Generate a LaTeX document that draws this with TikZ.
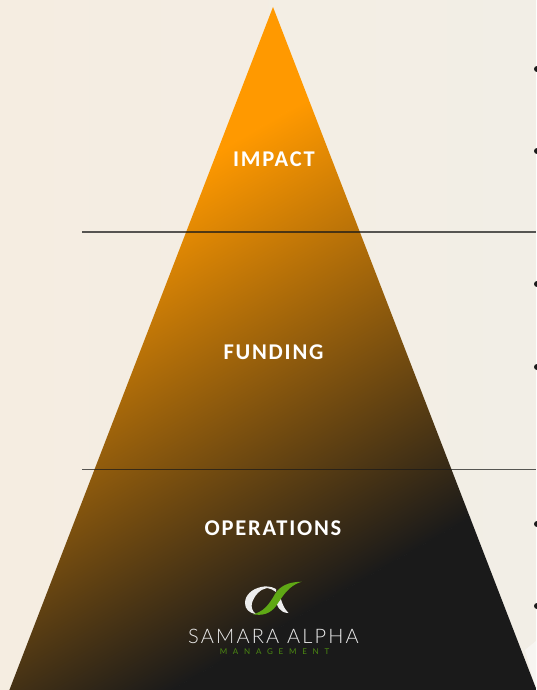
\documentclass[tikz,border=0pt]{standalone}
\usepackage{fontspec}
\setmainfont{Carlito}
\newfontfamily\labelfont[LetterSpace=8]{Carlito Bold}
\newfontfamily\logofont[LetterSpace=11]{Lato Light}
\newfontfamily\subfont[LetterSpace=72]{Lato}
\definecolor{bgl}{HTML}{F5EDE1}
\definecolor{bgr}{HTML}{F2EEE6}
\definecolor{org}{HTML}{FF9900}
\definecolor{drk}{HTML}{1A1A1A}
\definecolor{grn}{HTML}{5FA815}
\definecolor{subg}{HTML}{4C8A12}
\definecolor{logow}{HTML}{EDEDED}
\tikzset{lvl/.style={text=white,font=\labelfont\fontsize{22.5}{22}\selectfont,inner sep=0pt,anchor=center},
 rule/.style={draw=drk,draw opacity=.72,line width=1.4pt},
 bul/.style={circle,fill=drk,inner sep=0pt,minimum size=6pt}}
\begin{document}
\begin{tikzpicture}[x=1pt,y=-1pt]
\useasboundingbox (0,0) rectangle (536,690);
\shade[left color=bgl,right color=bgr] (0,0) rectangle (536,690);
\fill[white,opacity=.45] (536,641) -- (525,650) -- (536,690) -- cycle;
% triangle
\coordinate (apex) at (273,7);
\coordinate (bl) at (9,691);
\coordinate (br) at (537,691);
\begin{scope}
\clip (apex) -- (br) -- (bl) -- cycle;
\begin{scope}[transform canvas={rotate around={30:(273,350)}}]
\shade[top color=org,bottom color=drk,middle color=org!50!drk] (-300,150) rectangle (900,594);
\fill[drk] (-300,593.5) rectangle (900,1100);
\fill[org] (-300,-500) rectangle (900,150.5);
\end{scope}
\end{scope}
% rules
\coordinate (r1a) at (82,232); \coordinate (r1b) at (536,232);
\coordinate (r2a) at (82,469.5); \coordinate (r2b) at (536,469.5);
\draw[rule] (r1a) -- (r1b);
\draw[rule] (r2a) -- (r2b);
% labels
\node[lvl] (impact) at (274,159) {IMPACT};
\node[lvl] (funding) at (273.5,352) {FUNDING};
\node[lvl] (ops) at (273,528.5) {OPERATIONS};
% bullets
\foreach \n/\y in {a/69,b/151,c/284,d/367,e/524,f/606}
  \node[bul] (b\n) at (537,\y) {};
% logo
\fill[logow] (276,589) .. controls (271,586) and (265,586) .. (261,587)
  .. controls (252,589) and (245,595) .. (245,603)
  .. controls (245,609) and (249,613) .. (256,614.2)
  .. controls (252,611) and (251,607) .. (252,603)
  .. controls (254,596) and (260,589) .. (267,588)
  .. controls (270,588) and (273,590) .. (276,592) -- cycle;
\fill[logow] (276,598) .. controls (276,606) and (280,613) .. (288.5,613)
  .. controls (284,609) and (281,601) .. (279,592) -- cycle;
\fill[grn] (301.5,581.7) .. controls (288,582) and (280,586) .. (275,594)
  .. controls (269,605) and (263,612) .. (253,614.2)
  .. controls (262,616) and (270,614) .. (276,606)
  .. controls (283,596) and (288,586) .. (301.5,581.7) -- cycle;
\node[inner sep=0pt,text=logow,font=\logofont\fontsize{20}{20}\selectfont] (brand) at (273.5,636) {SAMARA ALPHA};
\node[inner sep=0pt,text=subg,font=\subfont\fontsize{8}{8}\selectfont] (sub) at (274.5,651.5) {MANAGEMENT};
\end{tikzpicture}
\end{document}
